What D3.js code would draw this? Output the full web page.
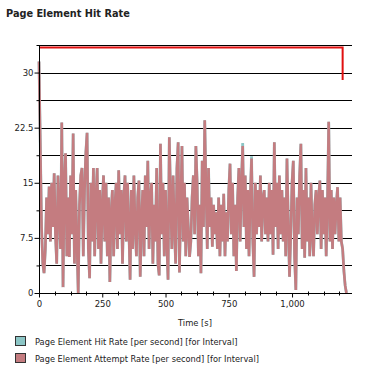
<!DOCTYPE html>
<html><head><meta charset="utf-8">
<script src="https://cdn.jsdelivr.net/npm/d3@7"></script>
<style>body{margin:0;background:#fff}svg{display:block}text{font-family:"DejaVu Sans",sans-serif;fill:#222}</style>
</head><body>
<script>
const title = "Page Element Hit Rate";
const xLabel = "Time [s]";
const legendNames = ["Page Element Hit Rate [per second] [for Interval]", "Page Element Attempt Rate [per second] [for Interval]"];
const legendColors = ["#8cc6c6", "#c47c80"];
const step = 5; // seconds between samples
const attemptRate = [
 31.5,20.5,9,4,2.7,6,13,8,14.5,7,15,9,16.3,8,4,16,11,6,23.2,0.8,
 15,19,5,13,4.9,16,8,21.7,4,14,7,0,12,16,17,5,14,19,21.8,6,
 2,15,7,17,5,13,17,6,14,4,12,16,7,15,5,13,1.5,11,14,5,
 12,15,6,16.7,8,14,4,13,16,7,15,9,1.8,14,6,16,9,5,13,15.3,
 2.2,10,14,5,16,9,18,6,13,15,4,12,7,17,4,2.4,20.3,8,15,5,
 14,7,1.8,21.2,13,6,16,9,4,17,20.5,2.8,12,20,7,15,5,13,9,4.9,
 7,13,16,8,20,15,5,12,2.7,18,9,23.5,14,6,17,9,13,6.3,12,8,
 11,6,13,5,12,7,13.5,5,11,7,14,17.6,8,15,5,12,3,13,17,7,
 15,20,9,16,6,14,5,13,18.3,7,2.2,15,8,14,9,16,7,13,14,8,
 13,7,15,8,14,5.2,20.5,9,15,6,16,8,14,7,13,5,18.3,10,2.2,8,
 15,18,5,0.4,13,8,16,20.3,6,14,4.8,17,7,13,5,15,8,5,12,14,
 8,13,15.3,6,14,8,13,5,12,23.3,7,14,6,13,8,12,14.4,7,13,7,
 6,3,1,0
];
const hitRate = [
 31.5,20.5,9,4,2.7,6,13,8,14.5,7,15,9,16.3,8,4,16,11,6,23.2,0.8,
 15,19,5,13,4.9,16,8,21.7,4,14,7,0,12,16,17,5,14,19,21.8,6,
 2,15,7,17,5,13,17,6,14,4,12,16,7,15,5,13,1.5,11,14,5,
 12,15,6,16.7,8,14,4,13,16,7,15,9,1.8,14,6,16,9,5,13,15.3,
 2.2,10,14,5,16,9,18,6,13,15,4,12,7,17,4,2.4,20.3,8,15,5,
 14,7,1.8,21.2,13,6,16,9,4,17,20.5,2.8,12,20,7,15,5,13,9,4.9,
 7,13,16,8,20,15,5,12,2.7,18,9,23.5,14,6,17,9,13,6.3,12,8,
 11,6,13,5,12,7,13.5,5,11,7,14,17.6,8,15,5,12,3,13,17,7,
 15,20.4,9,16,6,14,5,13,18.6,7,2.2,15,8,14,9,16,7,13,14,8,
 13,7,15,8,14,5.2,20.5,9,15,6,16,8,14,7,13,5,18.3,10,2.2,8,
 15,18,5,0.4,13,8,16,20.3,6,14,4.8,17,7,13,5,15,8,5,12,14,
 8,13,15.3,6,14,8,13,5,12,23.3,7,14,6,13,8,12,14.4,7,13,7,
 6,3,1,0
];
const redLineT = [0, 1200, 1200];
const redLineV = [33.4, 33.4, 29];
const yTicks = [0, 7.5, 15, 22.5, 30];
const yGrid = [3.75, 7.5, 11.25, 15, 18.75, 22.5, 26.25, 30, 33.75];
const xTicks = [0, 250, 500, 750, 1000];
const xMinor = [62.5,125,187.5,312.5,375,437.5,562.5,625,687.5,812.5,875,937.5,1062.5,1125,1187.5];
const xMax = 1237, yMax = 33.75;

const W = 368, H = 369;
const svg = d3.select("body").append("svg").attr("width", W).attr("height", H);
const x = d3.scaleLinear().domain([0, xMax]).range([39, 352]);
const y = d3.scaleLinear().domain([0, yMax]).range([293, 45]);

function fit(t, target) {
  const w = t.node().getComputedTextLength();
  const fs = parseFloat(t.attr("font-size"));
  t.attr("font-size", fs * target / w);
}

// title
fit(svg.append("text").attr("x", 6).attr("y", 17).attr("font-size", 12).attr("font-weight", "bold").text(title), 124);

// grid
svg.append("g").selectAll("line").data(yGrid).join("line")
  .attr("x1", 39).attr("x2", 352).attr("y1", d => Math.round(y(d)) + 0.5).attr("y2", d => Math.round(y(d)) + 0.5)
  .attr("stroke", "#000").attr("stroke-width", 1);

// series
const line = d3.line().x((d, i) => x(i * step)).y(d => y(d));
svg.append("path").datum(hitRate).attr("d", line).attr("fill", "none").attr("stroke", legendColors[0]).attr("stroke-width", 2.8).attr("stroke-linejoin", "miter");
svg.append("path").datum(attemptRate).attr("d", line).attr("fill", "none").attr("stroke", legendColors[1]).attr("stroke-width", 2.6).attr("stroke-linejoin", "miter");

// red line
svg.append("path").datum(redLineT.map((t, i) => [t, redLineV[i]]))
  .attr("d", d3.line().x(d => x(d[0])).y(d => y(d[1])))
  .attr("fill", "none").attr("stroke", "#e01010").attr("stroke-width", 2);

// y axis
const ya = svg.append("g").attr("transform", "translate(39.5,0)")
  .call(d3.axisLeft(y).tickValues(yGrid.concat([0])).tickSize(3).tickFormat(d => yTicks.includes(d) ? d3.format(",")(d) : ""));
ya.select(".domain").remove();
ya.append("line").attr("y1", 45).attr("y2", 293.5).attr("stroke", "#000");
ya.selectAll(".tick line").attr("stroke", "#000").attr("x2", d => yTicks.includes(d) ? -5 : -3);
ya.selectAll(".tick text").attr("font-size", 8.5).attr("x", -6).attr("fill", "#222").attr("font-family", "DejaVu Sans");

// x axis
const xa = svg.append("g").attr("transform", "translate(0,293.5)")
  .call(d3.axisBottom(x).tickValues(xTicks).tickSize(4).tickFormat(d3.format(",")));
xa.select(".domain").remove();
xa.append("line").attr("x1", 36).attr("x2", 352).attr("stroke", "#000");
xa.selectAll(".tick line").attr("stroke", "#000");
xa.selectAll(".tick text").attr("font-size", 8.5).attr("y", 7).attr("fill", "#222").attr("font-family", "DejaVu Sans");
xa.selectAll(".minor").data(xMinor).join("line").attr("class", "minor")
  .attr("x1", d => Math.round(x(d)) + 0.5).attr("x2", d => Math.round(x(d)) + 0.5).attr("y1", -2).attr("y2", 2).attr("stroke", "#000");

fit(svg.append("text").attr("x", 195).attr("y", 326).attr("text-anchor", "middle").attr("font-size", 9).text(xLabel), 34);

// legend
const lg = svg.append("g");
legendNames.forEach((n, i) => {
  lg.append("rect").attr("x", 15.5).attr("y", 336.5 + i * 17).attr("width", 10).attr("height", 9)
    .attr("fill", legendColors[i]).attr("stroke", "#333").attr("stroke-width", 1);
  const t = lg.append("text").attr("x", 35).attr("y", 345 + i * 17).attr("font-size", 9).text(n);
  fit(t, i === 0 ? 203 : 224);
});
</script>
</body></html>
